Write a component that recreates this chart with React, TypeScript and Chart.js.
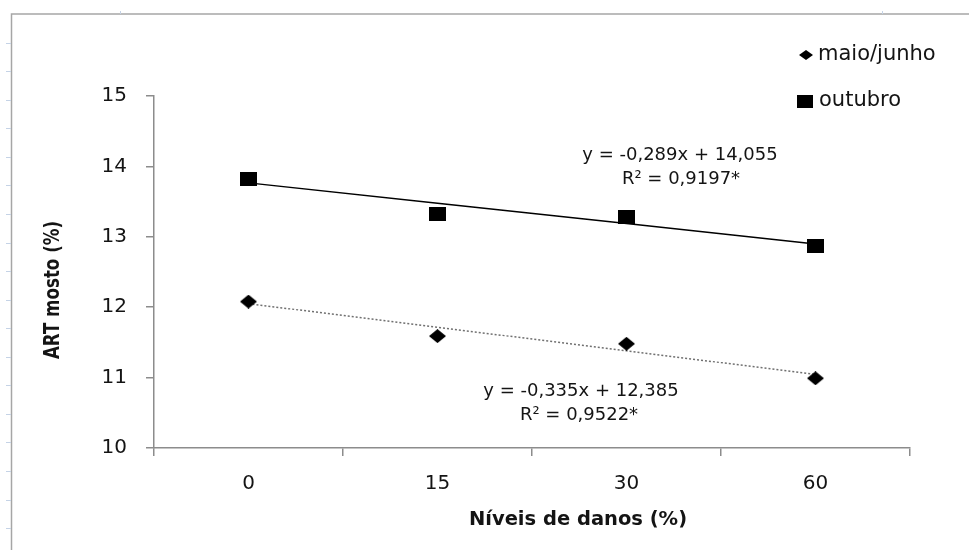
import React, { useEffect, useRef } from "react";
import { Chart, registerables } from "chart.js";

Chart.register(...registerables);

const categories = ["0", "15", "30", "60"];
const maioJunho = [12.08, 11.59, 11.48, 10.99];
const outubro = [13.82, 13.33, 13.28, 12.87];
const trendIndex = [1, 2, 3, 4];
const maioCoef = { slope: -0.335, intercept: 12.385 };
const outCoef = { slope: -0.289, intercept: 14.055 };
const yTicks = [10, 11, 12, 13, 14, 15];
const eqOut = ["y = -0,289x + 14,055", "R² = 0,9197*"];
const eqMaio = ["y = -0,335x + 12,385", "R² = 0,9522*"];
const seriesNames = ["maio/junho", "outubro"];
const xTitle = "Níveis de danos (%)";
const yTitle = "ART mosto (%)";

const FONT = "'DejaVu Sans', sans-serif";
const TEXT = "#141414";
const AXIS = "#8c8c8c";

function makeMarker(kind: "square" | "diamond", w: number, h: number) {
  const c = document.createElement("canvas");
  c.width = w;
  c.height = h;
  const g = c.getContext("2d")!;
  g.fillStyle = "#000";
  if (kind === "square") {
    g.fillRect(0, 0, w, h);
  } else {
    g.beginPath();
    g.moveTo(w / 2, 0);
    g.lineTo(w, h / 2);
    g.lineTo(w / 2, h);
    g.lineTo(0, h / 2);
    g.closePath();
    g.fill();
  }
  return c;
}

const decorPlugin = {
  id: "decor",
  afterDraw(chart: any) {
    const ctx = chart.ctx as CanvasRenderingContext2D;
    ctx.save();
    // outer frame (left and top)
    ctx.strokeStyle = "#a6a6a6";
    ctx.lineWidth = 1.5;
    ctx.beginPath();
    ctx.moveTo(11.5, 550);
    ctx.lineTo(11.5, 14);
    ctx.lineTo(969, 14);
    ctx.stroke();
    // light ruler ticks
    ctx.strokeStyle = "#c5d3e6";
    ctx.lineWidth = 1;
    for (let y = 42.7; y < 550; y += 28.55) {
      ctx.beginPath();
      ctx.moveTo(6, Math.round(y) + 0.5);
      ctx.lineTo(11, Math.round(y) + 0.5);
      ctx.stroke();
    }
    ctx.beginPath();
    ctx.moveTo(120.5, 11);
    ctx.lineTo(120.5, 14);
    ctx.moveTo(882.5, 11);
    ctx.lineTo(882.5, 14);
    ctx.stroke();

    // legend
    ctx.fillStyle = "#000";
    ctx.beginPath();
    ctx.moveTo(799, 55);
    ctx.lineTo(806, 50);
    ctx.lineTo(813, 55);
    ctx.lineTo(806, 60);
    ctx.closePath();
    ctx.fill();
    ctx.fillRect(797, 95, 16, 13);
    ctx.fillStyle = TEXT;
    ctx.font = `21px ${FONT}`;
    ctx.textAlign = "left";
    ctx.textBaseline = "middle";
    ctx.fillText(seriesNames[0], 818, 55);
    ctx.fillText(seriesNames[1], 819, 101);

    // equations
    ctx.textAlign = "center";
    ctx.font = `18px ${FONT}`;
    ctx.fillText(eqOut[0], 680, 155);
    ctx.fillText(eqOut[1], 681, 179);
    ctx.fillText(eqMaio[0], 581, 391);
    ctx.fillText(eqMaio[1], 579, 415);

    // axis titles
    ctx.font = `bold 19.5px ${FONT}`;
    ctx.fillText(xTitle, 578, 520);
    ctx.translate(54, 290);
    ctx.rotate(-Math.PI / 2);
    ctx.scale(1, 1.25);
    ctx.font = `bold 16.7px ${FONT}`;
    ctx.fillText(yTitle, 0, 0);
    ctx.restore();
  },
};

export default function App() {
  const ref = useRef<HTMLCanvasElement>(null);
  useEffect(() => {
    if (!ref.current) return;
    const trendOut = trendIndex.map((i) => outCoef.slope * i + outCoef.intercept);
    const trendMaio = trendIndex.map((i) => maioCoef.slope * i + maioCoef.intercept);
    const sq = makeMarker("square", 17, 14);
    const dia = makeMarker("diamond", 17, 14);
    const chart = new Chart(ref.current, {
      type: "line",
      data: {
        labels: categories,
        datasets: [
          {
            label: "trend outubro",
            data: trendOut,
            borderColor: "#000",
            borderWidth: 1.5,
            pointRadius: 0,
            fill: false,
            order: 2,
          },
          {
            label: "trend maio/junho",
            data: trendMaio,
            borderColor: "#707070",
            borderWidth: 1.5,
            borderDash: [2, 2],
            pointRadius: 0,
            fill: false,
            order: 2,
          },
          {
            label: seriesNames[1],
            data: outubro,
            showLine: false,
            pointStyle: sq,
            pointRadius: 9,
            backgroundColor: "#000",
            borderColor: "#000",
            borderWidth: 0,
            order: 0,
          },
          {
            label: seriesNames[0],
            data: maioJunho,
            showLine: false,
            pointStyle: dia,
            pointRadius: 9,
            backgroundColor: "#000",
            borderColor: "#000",
            borderWidth: 0,
            order: 0,
          },
        ],
      },
      options: {
        responsive: false,
        devicePixelRatio: 1,
        animation: false,
        layout: { padding: { top: 96, right: 59, left: 0, bottom: 0 } },
        plugins: { legend: { display: false }, tooltip: { enabled: false } },
        scales: {
          x: {
            type: "category",
            offset: true,
            grid: {
              offset: true,
              drawOnChartArea: false,
              drawTicks: true,
              tickLength: 8,
              color: AXIS,
              lineWidth: 1.5,
            },
            border: { color: AXIS, width: 1.5 },
            ticks: { font: { family: FONT, size: 20 }, color: TEXT, padding: 16 },
            afterFit: (s: any) => {
              s.height = 102;
            },
          },
          y: {
            min: 10,
            max: 15,
            afterBuildTicks: (s: any) => {
              s.ticks = yTicks.map((v) => ({ value: v }));
            },
            grid: {
              drawOnChartArea: false,
              drawTicks: true,
              tickLength: 8,
              color: AXIS,
              lineWidth: 1.5,
            },
            border: { color: AXIS, width: 1.5 },
            ticks: { font: { family: FONT, size: 20 }, color: TEXT, padding: 19 },
            afterFit: (s: any) => {
              s.width = 154;
            },
          },
        },
      },
      plugins: [decorPlugin],
    });
    return () => chart.destroy();
  }, []);
  return (
    <div style={{ position: "absolute", left: 0, top: 0, width: 969, height: 550, background: "#fff" }}>
      <canvas ref={ref} width={969} height={550} style={{ display: "block" }} />
    </div>
  );
}
